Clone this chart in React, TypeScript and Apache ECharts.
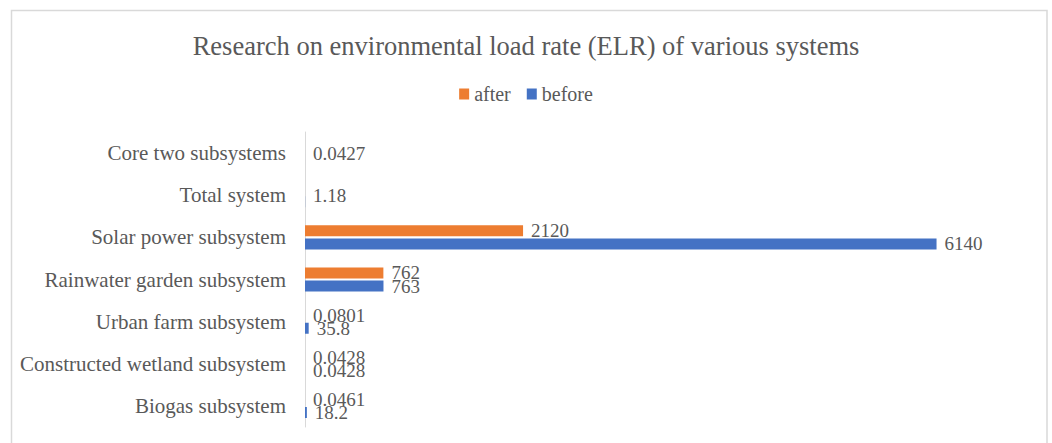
import React, { useEffect, useRef } from "react";
import * as echarts from "echarts";

const categories = [
  "Core two subsystems",
  "Total system",
  "Solar power subsystem",
  "Rainwater garden subsystem",
  "Urban farm subsystem",
  "Constructed wetland subsystem",
  "Biogas subsystem",
];
const afterValues: (number | null)[] = [null, null, 2120, 762, 0.0801, 0.0428, 0.0461];
const beforeValues: (number | null)[] = [0.0427, 1.18, 6140, 763, 35.8, 0.0428, 18.2];
const seriesNames = ["after", "before"];
const axisMax = 7000;

const FONT = "'Liberation Serif', 'DejaVu Serif', serif";
const TXT = "#595959";

export default function App() {
  const ref = useRef<HTMLDivElement>(null);
  useEffect(() => {
    if (!ref.current) return;
    const chart = echarts.init(ref.current, null, { renderer: "svg" });
    const afterData = afterValues.map((v) => v);
    const beforeData = beforeValues.map((v, i) =>
      afterValues[i] === null ? { value: v, label: { offset: [0, -6.5] } } : v
    );
    const labelCommon = {
      show: true,
      position: "right" as const,
      distance: 8,
      color: TXT,
      fontFamily: FONT,
      fontSize: 19,
      formatter: (p: any) => (p.value === null || p.value === undefined ? "" : String(p.value)),
    };
    chart.setOption({
      animation: false,
      backgroundColor: "#ffffff",
      title: {
        text: "Research on environmental load rate (ELR) of various systems",
        left: "center",
        top: 27,
        textStyle: { fontFamily: FONT, fontSize: 26.5, fontWeight: "normal", color: TXT },
      },
      legend: {
        top: 79,
        left: "center",
        itemWidth: 10,
        itemHeight: 11,
        itemGap: 16,
        icon: "rect",
        textStyle: { fontFamily: FONT, fontSize: 20, color: TXT },
        data: seriesNames,
      },
      graphic: [
        {
          type: "rect",
          shape: { x: 11.5, y: 10.5, width: 1035.5, height: 500 },
          style: { fill: "none", stroke: "#d9d9d9", lineWidth: 1.5 },
          silent: true,
        },
      ],
      grid: { left: 305, right: 27, top: 132, bottom: 16, containLabel: false },
      xAxis: {
        type: "value",
        min: 0,
        max: axisMax,
        show: false,
      },
      yAxis: {
        type: "category",
        inverse: true,
        data: categories,
        axisLine: { show: true, lineStyle: { color: "#d9d9d9", width: 1 } },
        axisTick: { show: false },
        axisLabel: { fontFamily: FONT, fontSize: 21, color: TXT, margin: 19 },
      },
      series: [
        {
          name: seriesNames[0],
          type: "bar",
          data: afterData,
          barWidth: 11,
          barGap: "20%",
          itemStyle: { color: "#ED7D31" },
          label: labelCommon,
        },
        {
          name: seriesNames[1],
          type: "bar",
          data: beforeData,
          barWidth: 11,
          barGap: "20%",
          itemStyle: { color: "#4472C4" },
          label: labelCommon,
        },
      ],
    });
    return () => chart.dispose();
  }, []);
  return (
    <div
      ref={ref}
      style={{ position: "fixed", left: 0, top: 0, width: 1052, height: 443, background: "#fff" }}
    />
  );
}
